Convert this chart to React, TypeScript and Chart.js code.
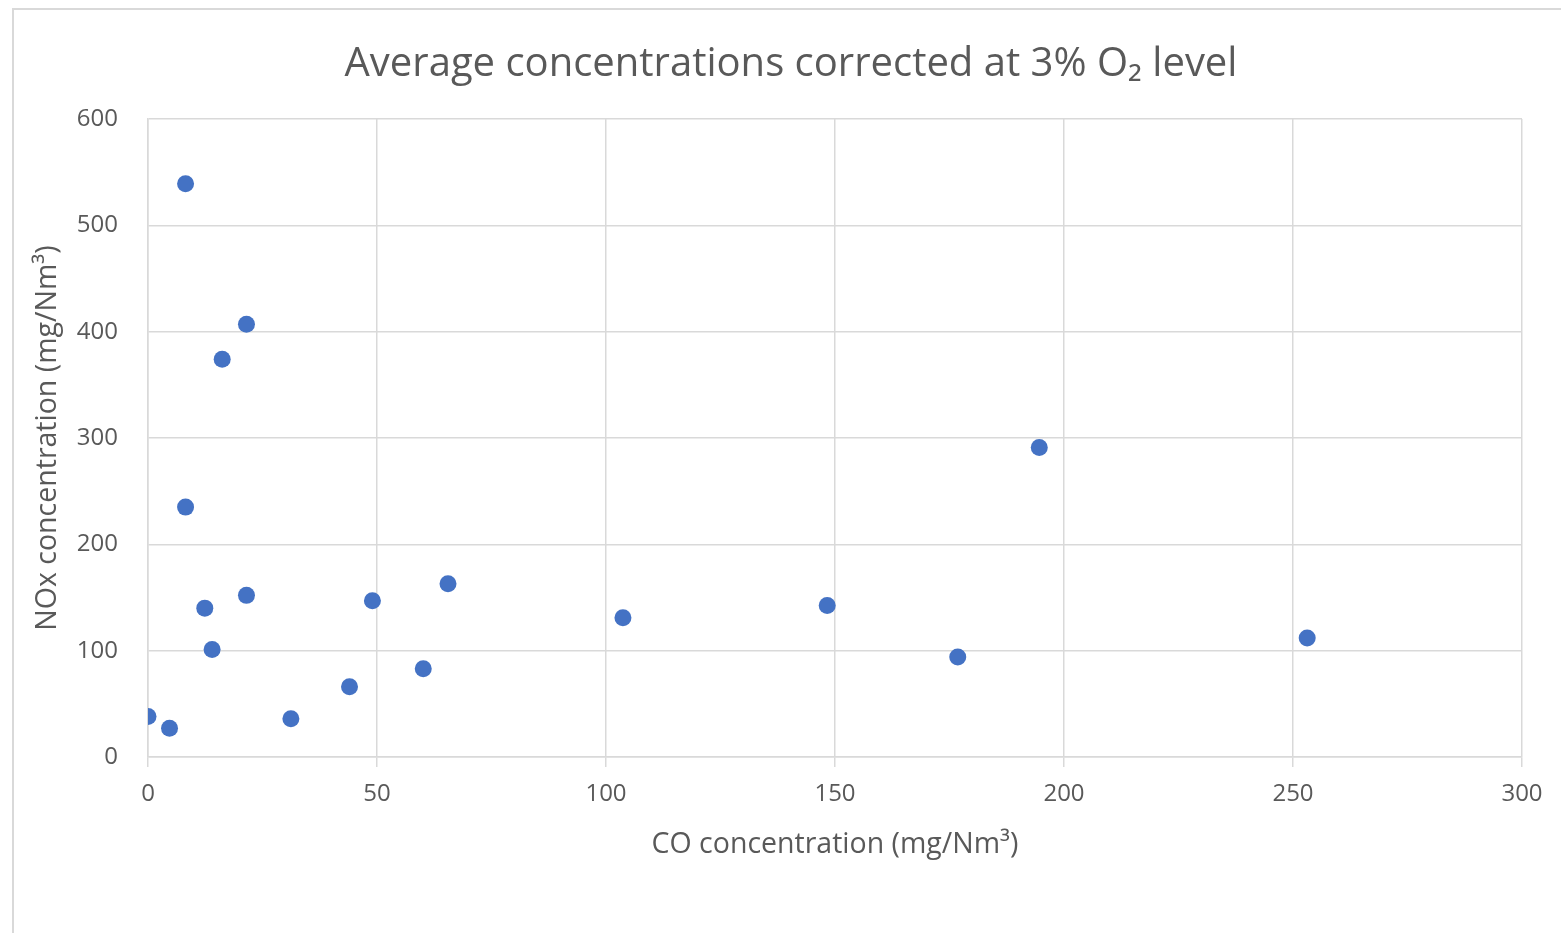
import React, { useEffect, useRef } from "react";
import { Chart, registerables } from "chart.js";

Chart.register(...registerables);

const coValues = [0, 4.7, 8.2, 8.2, 12.4, 14, 16.2, 21.5, 21.5, 31.2, 44, 49, 60.1, 65.5, 103.7, 148.3, 176.8, 194.6, 253.1];
const noxValues = [38, 27, 539, 235, 140, 101, 374, 407, 152, 36, 66, 147, 83, 163, 131, 142.5, 94, 291, 112];

const chartTitle = "Average concentrations corrected at 3% O\u2082 level";
const xTitle = "CO concentration (mg/Nm\u00B3)";
const yTitle = "NOx concentration (mg/Nm\u00B3)";

const FONT = "'Open Sans', sans-serif";
const TEXT = "#595959";
const GRID = "#d9d9d9";

export default function App() {
  const ref = useRef<HTMLCanvasElement | null>(null);

  useEffect(() => {
    if (!ref.current) return;
    document.body.style.overflow = "hidden";
    const points = coValues.map((x, i) => ({ x, y: noxValues[i] }));
    const chart = new Chart(ref.current, {
      type: "scatter",
      data: {
        datasets: [
          {
            label: "NOx vs CO",
            data: points,
            backgroundColor: "#4472C4",
            borderWidth: 0,
            pointRadius: 8.5,
            pointHoverRadius: 8.5,
          },
        ],
      },
      options: {
        animation: false,
        responsive: false,
        maintainAspectRatio: false,
        layout: { padding: { left: 60, right: 39, top: 0, bottom: 40 } },
        plugins: {
          legend: { display: false },
          tooltip: { enabled: false },
          title: {
            display: true,
            text: chartTitle,
            color: TEXT,
            font: { family: FONT, size: 40, weight: "normal" },
            padding: { top: 41, bottom: 30 },
          },
        },
        scales: {
          x: {
            type: "linear",
            min: 0,
            max: 300,
            ticks: {
              stepSize: 50,
              color: TEXT,
              font: { family: FONT, size: 24 },
              padding: 13,
            },
            grid: { color: GRID, lineWidth: 1.5, tickLength: 10, drawTicks: true },
            border: { color: GRID, width: 1.5 },
            title: {
              display: true,
              text: xTitle,
              color: TEXT,
              font: { family: FONT, size: 28.5 },
              padding: { top: 0, bottom: 31 },
            },
            afterFit: (s: any) => {
              s.height = 136;
            },
          },
          y: {
            type: "linear",
            min: 0,
            max: 600,
            ticks: {
              stepSize: 100,
              color: TEXT,
              font: { family: FONT, size: 24 },
              padding: 30,
            },
            grid: { color: GRID, lineWidth: 1.5, drawTicks: false, tickLength: 0 },
            border: { color: GRID, width: 1.5 },
            title: {
              display: true,
              text: yTitle,
              color: TEXT,
              font: { family: FONT, size: 28.5 },
              padding: { top: -29, bottom: 0 },
            },
            afterFit: (s: any) => {
              s.width = 88;
            },
          },
        },
      },
    });
    return () => chart.destroy();
  }, []);

  return (
    <div>
      <div
        style={{
          position: "fixed",
          left: 12,
          top: 8,
          width: 1556,
          height: 960,
          border: "2px solid #d9d9d9",
          boxSizing: "border-box",
          background: "#fff",
        }}
      />
      <canvas
        ref={ref}
        width={1561}
        height={933}
        style={{ position: "fixed", left: 0, top: 0, width: 1561, height: 933 }}
      />
    </div>
  );
}
